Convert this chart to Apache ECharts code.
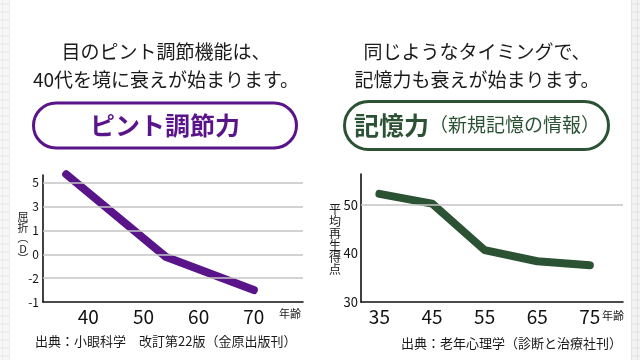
<!DOCTYPE html>
<html><head><meta charset="utf-8">
<script src="https://cdn.jsdelivr.net/npm/echarts@6/dist/echarts.min.js"></script>
<style>html,body{margin:0;padding:0;background:#fff}#c{width:640px;height:360px}</style>
</head><body><div id="c"></div>
<script>
// ---- data: left chart (focus accommodation) ----
const focusAges = [36, 54, 70];
const focusPos = [5.35, 1.9, 0.5];            // positions on the evenly spaced diopter scale
const focusTickLabels = ['-1', '-2', '0', '1', '3', '5'];
const focusAgeTicks = [40, 50, 60, 70];
// ---- data: right chart (memory) ----
const memAges = [35, 45, 55, 65, 75];
const memScores = [52.3, 50.3, 40.7, 38.4, 37.6];
const memAgeTicks = [35, 45, 55, 65, 75];
const memGridValues = [50];

const PURPLE = '#5a1489';
const GREEN = '#2c5234';
const FONT = '"Noto Sans CJK JP", "Noto Sans", sans-serif';

const chart = echarts.init(document.getElementById('c'), null, {renderer: 'canvas'});

const isInt = v => Math.abs(v - Math.round(v)) < 1e-6;

// edge decoration (graph paper strips)
const deco = [];
deco.push({type: 'rect', shape: {x: 0, y: 0, width: 9, height: 360}, style: {fill: '#f7f7f7'}, silent: true});
deco.push({type: 'rect', shape: {x: 631, y: 0, width: 9, height: 360}, style: {fill: '#f3f3f3'}, silent: true});
for (let y = 4; y < 360; y += 8) {
  deco.push({type: 'line', shape: {x1: 0, y1: y, x2: 9, y2: y}, style: {stroke: '#e6e6e6', lineWidth: 1}, silent: true});
  deco.push({type: 'line', shape: {x1: 631, y1: y, x2: 640, y2: y}, style: {stroke: '#e2e2e2', lineWidth: 1}, silent: true});
}
deco.push({type: 'line', shape: {x1: 9.5, y1: 0, x2: 9.5, y2: 360}, style: {stroke: '#ececec', lineWidth: 1}, silent: true});
deco.push({type: 'line', shape: {x1: 631.5, y1: 0, x2: 631.5, y2: 360}, style: {stroke: '#e4e4e4', lineWidth: 1}, silent: true});
deco.push({type: 'line', shape: {x1: 2.5, y1: 0, x2: 2.5, y2: 360}, style: {stroke: '#ececec', lineWidth: 1}, silent: true});
deco.push({type: 'line', shape: {x1: 637.5, y1: 0, x2: 637.5, y2: 360}, style: {stroke: '#e4e4e4', lineWidth: 1}, silent: true});

const textEl = (x, y, text, font, fill, align) => ({
  type: 'text', x: x, y: y, silent: true,
  style: {text: text, font: font, fill: fill, align: align || 'center', verticalAlign: 'middle'}
});

const graphics = deco.concat([
  textEl(166, 52, '目のピント調節機能は、', '19px ' + FONT, '#1a1a1a'),
  textEl(166, 80, '40代を境に衰えが始まります。', '19px ' + FONT, '#1a1a1a'),
  textEl(477, 52, '同じようなタイミングで、', '19px ' + FONT, '#1a1a1a'),
  textEl(477, 80, '記憶力も衰えが始まります。', '19px ' + FONT, '#1a1a1a'),
  {type: 'rect', silent: true, shape: {x: 33.5, y: 103, width: 263, height: 45, r: 22.5},
   style: {fill: '#fff', stroke: PURPLE, lineWidth: 3}},
  textEl(165, 125, 'ピント調節力', 'bold 25px ' + FONT, PURPLE),
  {type: 'rect', silent: true, shape: {x: 344.5, y: 101.5, width: 264, height: 48, r: 24},
   style: {fill: '#fff', stroke: GREEN, lineWidth: 3}},
  {type: 'text', x: 477, y: 125, silent: true,
   style: {text: '{a|記憶力}{b|（新規記憶の情報）}', align: 'center', verticalAlign: 'middle',
     rich: {a: {font: 'bold 25px ' + FONT, fill: GREEN}, b: {font: '19px ' + FONT, fill: GREEN}}}},
  {type: 'text', x: 23, y: 238, silent: true,
   style: {text: '屈\n折\n︵\nD\n︶', font: '11px ' + FONT, fill: '#1a1a1a', align: 'center', verticalAlign: 'middle', lineHeight: 10.5}},
  {type: 'text', x: 335, y: 239, silent: true,
   style: {text: '平\n均\n再\n生\n得\n点', font: '12px ' + FONT, fill: '#1a1a1a', align: 'center', verticalAlign: 'middle', lineHeight: 12}},
  textEl(290, 314, '年齢', '11px ' + FONT, '#1a1a1a'),
  textEl(613, 316, '年齢', '11px ' + FONT, '#1a1a1a'),
  textEl(35, 341, '出典：小眼科学　改訂第22版（金原出版刊）', '13px ' + FONT, '#1a1a1a', 'left'),
  textEl(622, 343, '出典：老年心理学（診断と治療社刊）', '13px ' + FONT, '#1a1a1a', 'right')
]);

const axisLineStyle = {color: '#111', width: 1.6};

chart.setOption({
  animation: false,
  backgroundColor: '#ffffff',
  textStyle: {fontFamily: FONT},
  grid: [
    {left: 43, right: 337, top: 175, bottom: 58},
    {left: 361, right: 17, top: 174, bottom: 58}
  ],
  xAxis: [
    {gridIndex: 0, type: 'value', min: 31.8, max: 78.9,
     axisLine: {show: true, lineStyle: axisLineStyle},
     axisTick: {show: false},
     splitLine: {show: false},
     axisLabel: {customValues: focusAgeTicks, fontSize: 19, color: '#111', margin: 5, fontFamily: FONT}},
    {gridIndex: 1, type: 'value', min: 31.5, max: 81.3,
     axisLine: {show: true, lineStyle: axisLineStyle},
     axisTick: {show: false},
     splitLine: {show: false},
     axisLabel: {customValues: memAgeTicks, fontSize: 19, color: '#111', margin: 5, fontFamily: FONT}}
  ],
  yAxis: [
    {gridIndex: 0, type: 'value', min: 0, max: 5.32, interval: 1,
     axisLine: {show: true, lineStyle: axisLineStyle},
     axisTick: {show: false},
     splitLine: {show: false},
     axisLabel: {fontSize: 12, color: '#111', margin: 4, fontFamily: FONT,
       formatter: v => isInt(v) ? (focusTickLabels[Math.round(v)] || '') : ''}},
    {gridIndex: 1, type: 'value', min: 30, max: 56.4, interval: 10,
     axisLine: {show: true, lineStyle: axisLineStyle},
     axisTick: {show: false},
     splitLine: {show: false},
     axisLabel: {fontSize: 13, color: '#111', margin: 3, fontFamily: FONT,
       formatter: v => (isInt(v / 10) ? String(Math.round(v)) : '')}}
  ],
  series: [
    {type: 'line', xAxisIndex: 0, yAxisIndex: 0, data: [], z: 1, silent: true,
     markLine: {silent: true, symbol: ['none', 'none'], label: {show: false},
       lineStyle: {color: '#c4c4c4', width: 1.5, type: 'solid'},
       data: focusTickLabels.slice(1).map((t, i) => ({yAxis: i + 1}))}},
    {type: 'line', xAxisIndex: 0, yAxisIndex: 0, z: 3, clip: false,
     data: focusAges.map((a, i) => [a, focusPos[i]]),
     symbol: 'none', smooth: false,
     lineStyle: {color: PURPLE, width: 8, cap: 'round', join: 'round'}},
    {type: 'line', xAxisIndex: 1, yAxisIndex: 1, data: [], z: 1, silent: true,
     markLine: {silent: true, symbol: ['none', 'none'], label: {show: false},
       lineStyle: {color: '#c4c4c4', width: 1.5, type: 'solid'},
       data: memGridValues.map(v => ({yAxis: v}))}},
    {type: 'line', xAxisIndex: 1, yAxisIndex: 1, z: 3, clip: false,
     data: memAges.map((a, i) => [a, memScores[i]]),
     symbol: 'none', smooth: false,
     lineStyle: {color: GREEN, width: 8, cap: 'round', join: 'round'}}
  ],
  graphic: graphics
});
</script></body></html>
